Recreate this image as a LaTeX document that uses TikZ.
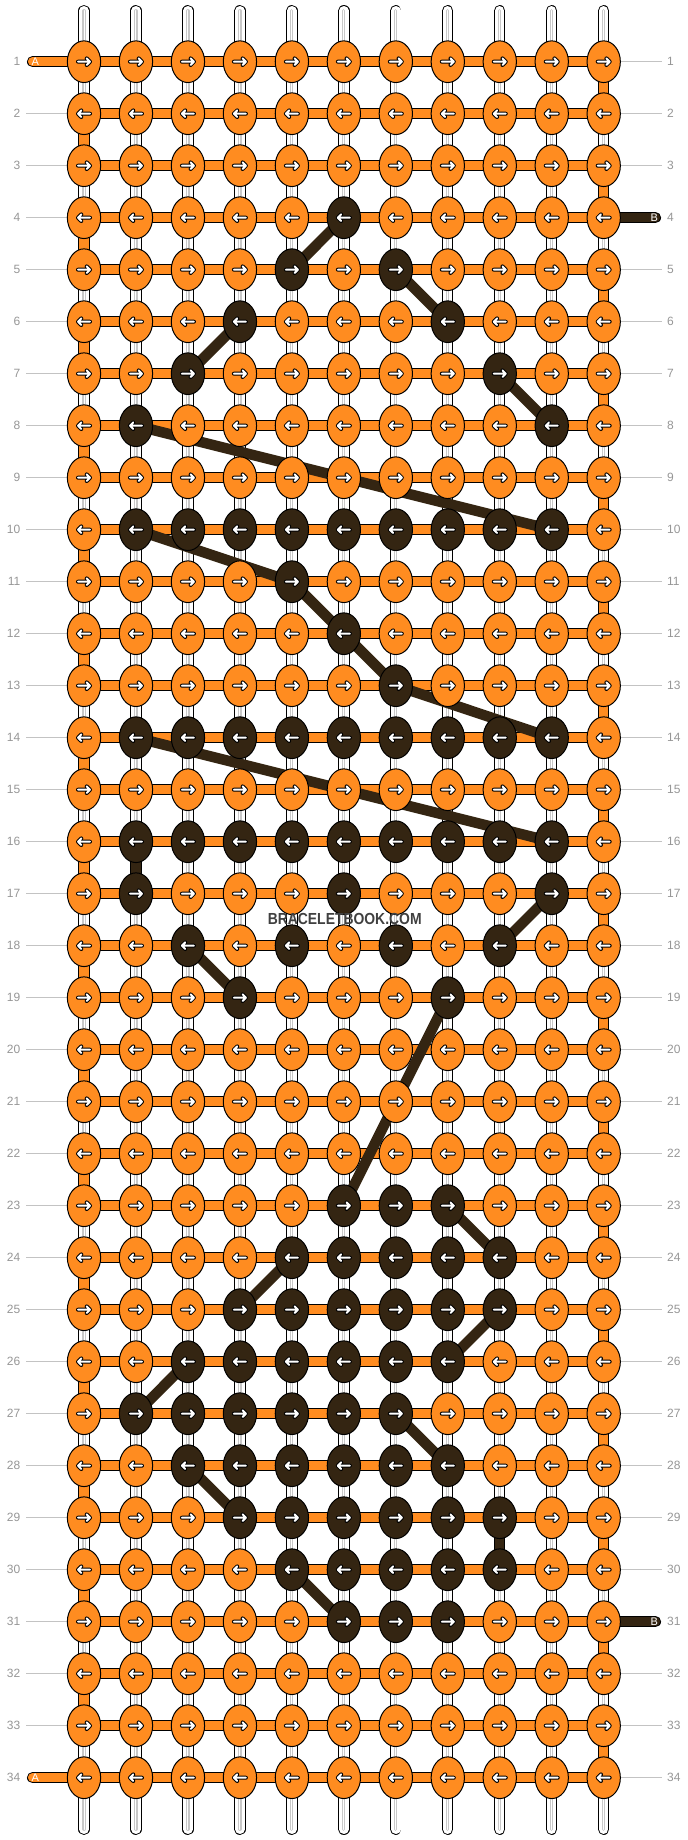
\documentclass[tikz,border=0pt]{standalone}
\usepackage{fontspec}
\setmainfont{Liberation Sans}
\usepackage{graphicx}
\usepackage{tikz}
\usetikzlibrary{shapes.geometric}
\definecolor{knotorange}{RGB}{255,140,32}
\definecolor{knotbrown}{RGB}{52,37,18}
\definecolor{rowgray}{RGB}{150,150,150}
\definecolor{linegray}{RGB}{195,195,195}
\definecolor{stripegray}{RGB}{200,200,200}
\definecolor{markgray}{RGB}{64,64,64}
\pgfdeclarelayer{strings}
\pgfdeclarelayer{threads}
\pgfsetlayers{strings,threads,main}

\begin{document}
\begin{tikzpicture}[x=1pt, y=-1pt, line cap=round, line join=round,
  knot/.style={ellipse, draw=black, line width=1pt, minimum width=33.3pt, minimum height=41.7pt, inner sep=0pt, outer sep=0pt},
  hstring/.style={draw=knotorange, line width=9.4pt, line cap=round, preaction={draw=black, line width=11.3pt, line cap=round}},
  ostring/.style={hstring},
  bstring/.style={draw=knotbrown, line width=9.4pt, line cap=round, preaction={draw=black, line width=11.3pt, line cap=round}},
  wstring/.style={draw=white, line width=9.4pt, line cap=round, preaction={draw=black, line width=11.3pt, line cap=round}, postaction={draw=stripegray, line width=3.2pt, line cap=round}, postaction={draw=white, line width=1pt, line cap=round}},
  bthread/.style={draw=knotbrown, line width=10.5pt, line cap=butt},
  rowline/.style={draw=linegray, line width=1.2pt, line cap=butt},
  rownum/.style={text=rowgray, font=\fontsize{12}{12}\selectfont, inner xsep=5.5pt, inner ysep=0pt},
  tagtext/.style={text=white, font=\fontsize{11}{11}\selectfont, inner sep=0pt},
  goright/.pic={\draw[black, line width=4pt, line cap=round, line join=round] (-6,0) -- (6,0) (2.7,-3.3) -- (6,0) -- (2.7,3.3);
    \draw[white, line width=2pt, line cap=round, line join=round] (-6,0) -- (6,0) (2.7,-3.3) -- (6,0) -- (2.7,3.3);},
  goleft/.pic={\draw[black, line width=4pt, line cap=round, line join=round] (6,0) -- (-6,0) (-2.7,-3.3) -- (-6,0) -- (-2.7,3.3);
    \draw[white, line width=2pt, line cap=round, line join=round] (6,0) -- (-6,0) (-2.7,-3.3) -- (-6,0) -- (-2.7,3.3);}]
\useasboundingbox (0,0) rectangle (688,1840);

\foreach \r/\cs in {4/6, 5/{5,7}, 6/{4,8}, 7/{3,9}, 8/{2,10}, 10/{2,...,10}, 11/5, 12/6, 13/7,
  14/{2,...,10}, 16/{2,...,10}, 17/{2,6,10}, 18/{3,5,7,9}, 19/{4,8}, 23/{6,7,8}, 24/{5,...,9},
  25/{4,...,9}, 26/{3,...,8}, 27/{2,...,7}, 28/{3,...,8}, 29/{4,...,9}, 30/{5,...,9}, 31/{6,7,8}}
  {\foreach \c in \cs {\expandafter\gdef\csname dk-\r-\c\endcsname{}}}
\foreach \r/\c in {16/2, 29/9} {\expandafter\gdef\csname dv-\r-\c\endcsname{}}

\foreach \r in {1,...,34} {
  \foreach \c in {1,...,11} {
    \ifcsname dk-\r-\c\endcsname \def\kfill{knotbrown}\else \def\kfill{knotorange}\fi
    \node[knot, fill=\kfill] (k-\r-\c) at ({84+51.97*(\c-1)}, {61.7+52*(\r-1)}) {};
    \ifodd\r \pic at (k-\r-\c) {goright};\else \pic at (k-\r-\c) {goleft};\fi
  }
  \node[rownum, anchor=east] (ln-\r) at (26, {61.7+52*(\r-1)}) {\r};
  \node[rownum, anchor=west] (rn-\r) at (661.5, {61.7+52*(\r-1)}) {\r};
}

\begin{pgfonlayer}{strings}
\foreach \c in {1,...,11} {
  \coordinate (top-\c) at ({84+51.97*(\c-1)}, 10.7);
  \coordinate (bot-\c) at ({84+51.97*(\c-1)}, 1829.3);
  \draw[wstring] (top-\c) -- (k-1-\c.center);
  \draw[wstring] (k-34-\c.center) -- (bot-\c);
  \foreach \r [count=\rn from 2] in {1,...,33} {
    \def\vs{wstring}
    \ifnum\c=11 \ifodd\r\relax \def\vs{ostring}\fi\fi
    \ifnum\c=1 \ifodd\r\relax\else \def\vs{ostring}\fi\fi
    \ifcsname dv-\r-\c\endcsname \def\vs{bstring}\fi
    \draw[\vs] (k-\r-\c.center) -- (k-\rn-\c.center);
  }
}
\foreach \r in {1,...,34}
  \foreach \c [count=\cn from 2] in {1,...,10}
    \draw[hstring] (k-\r-\c.center) -- (k-\r-\cn.center);
\foreach \r in {2,...,33} \draw[rowline] (ln-\r) -- (k-\r-1);
\foreach \r in {1,2,3,5,6,...,30,32,33,34} \draw[rowline] (k-\r-11) -- (rn-\r);
\foreach \r in {1,34} {
  \coordinate (endA-\r) at (32.6, {61.7+52*(\r-1)});
  \draw[hstring] (endA-\r) -- (k-\r-1.center);
}
\foreach \r in {4,31} {
  \coordinate (endB-\r) at (655.4, {61.7+52*(\r-1)});
  \draw[bstring] (k-\r-11.center) -- (endB-\r);
}
\end{pgfonlayer}

\begin{pgfonlayer}{threads}
\foreach \ra/\ca/\rb/\cb in {4/6/5/5, 5/7/6/8, 6/4/7/3, 7/9/8/10, 8/2/10/10, 10/2/11/5, 11/5/12/6,
  12/6/13/7, 13/7/14/10, 14/2/16/10, 17/10/18/9, 18/3/19/4, 19/8/23/6, 23/8/24/9, 24/5/25/4,
  25/9/26/8, 26/3/27/2, 27/7/28/8, 28/3/29/4, 30/5/31/6}
  \draw[bthread] (k-\ra-\ca.center) -- (k-\rb-\cb.center);
\end{pgfonlayer}

\foreach \r in {1,34} \node[tagtext] (tagA-\r) at (35.2, {61.7+52*(\r-1)}) {A};
\foreach \r in {4,31} \node[tagtext] (tagB-\r) at (654.3, {61.7+52*(\r-1)}) {B};
\node[text=markgray, font=\fontsize{16}{16}\selectfont\bfseries, inner sep=0pt] (mark) at (344.7, 919) {\scalebox{0.87}[1]{BRACELETBOOK.COM}};
\end{tikzpicture}
\end{document}
